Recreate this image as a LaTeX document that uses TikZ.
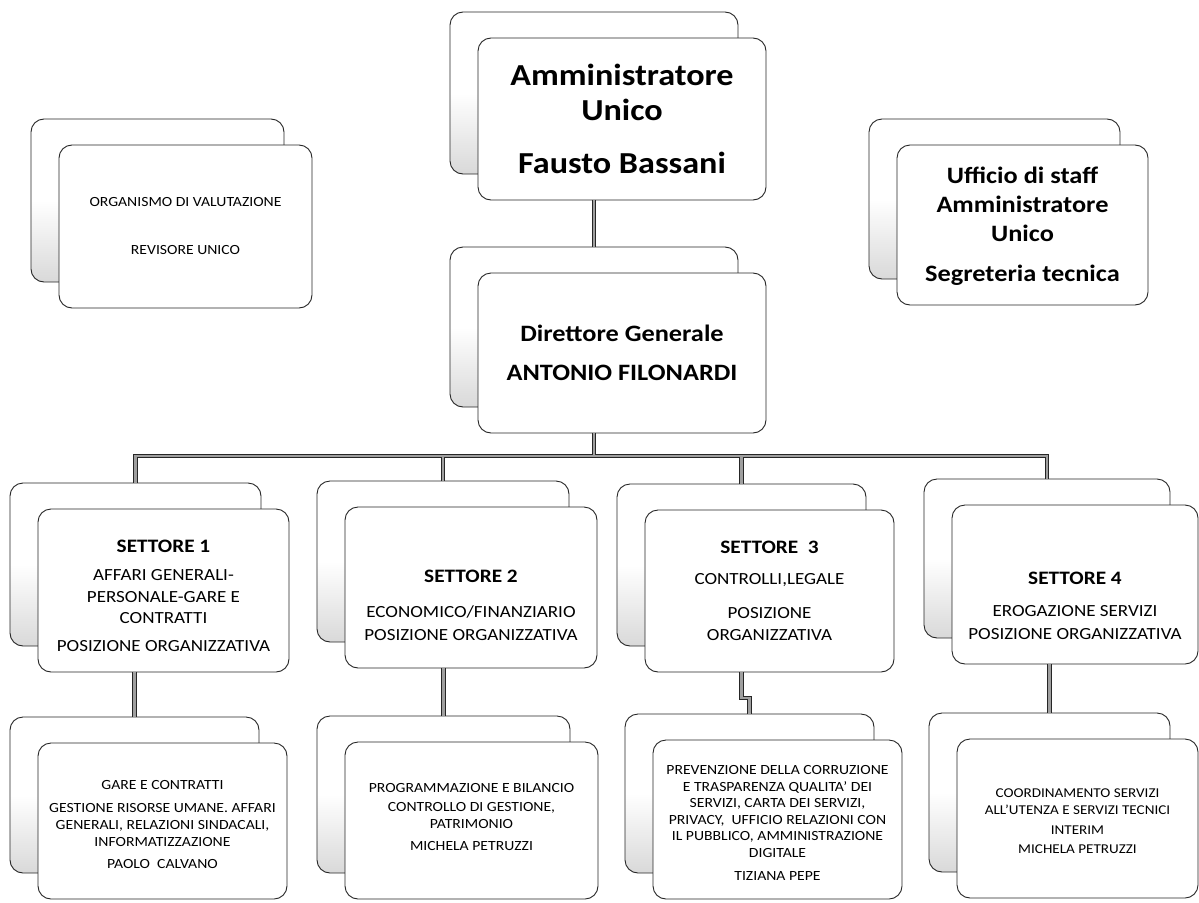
\documentclass[tikz,border=0pt]{standalone}
\usepackage{fontspec}
\setmainfont{Carlito}[FakeStretch=1.12]
\usepackage{tikz}
\usepackage{xcolor}
\usetikzlibrary{calc}

% back card + front card of one unit: name, centre x, centre y, width, height
\newcommand{\orgunit}[5]{%
	\node[backbox, minimum width=#4pt, minimum height=#5pt] (#1b) at (#2-28,#3-26) {};
	\node[frontbox, minimum width=#4pt, minimum height=#5pt] (#1) at (#2,#3) {};
}

\begin{document}
\begin{tikzpicture}[x=1pt, y=-1pt,
		backbox/.style={draw=black!85, line width=0.9pt, rounded corners=13pt, inner sep=0pt, top color=white, bottom color=gray!30, middle color=white},
		frontbox/.style={draw=black!85, line width=0.9pt, rounded corners=13pt, inner sep=0pt, fill=white},
		link/.style={draw=black!85, line width=1.1pt, double=gray!75, double distance=2.2pt},
		txt/.style={align=center, inner sep=0pt}]
			\useasboundingbox (0,0) rectangle (1199,902);
			\fill[white] (0,0) rectangle (1199,902);
			\clip (0,0) rectangle (1199,902);
			% top level
			\orgunit{au}{622}{119}{288}{162}
			\orgunit{ov}{185.5}{226.5}{253}{163}
			\orgunit{us}{1022.5}{225}{251}{160}
			\orgunit{dg}{622}{353}{288}{160}
			% settori
			\orgunit{s1}{163.5}{590.5}{251}{163}
			\orgunit{s2}{471}{587.5}{252}{161}
			\orgunit{s3}{769.5}{591}{249}{162}
			\orgunit{s4}{1075}{584.5}{246}{159}
			% uffici
			\orgunit{u1}{162.5}{821}{249}{156}
			\orgunit{u2}{471.5}{820.5}{253}{157}
			\orgunit{u3}{777.5}{819.5}{249}{159}
			\orgunit{u4}{1077.5}{818.5}{241}{159}
			% texts
			\node[txt, font=\fontsize{30.5}{35}\selectfont\bfseries] (au-txt) at (622,119) {Amministratore\\Unico\\[18pt]Fausto Bassani};
			\node[txt, font=\fontsize{14}{17}\selectfont] (ov-txt) at (185.5,226) {ORGANISMO DI VALUTAZIONE\\[31pt]REVISORE UNICO};
			\node[txt, font=\fontsize{23.5}{29}\selectfont\bfseries] (us-txt) at (1022.5,226) {Ufficio di staff\\Amministratore\\Unico\\[11pt]Segreteria tecnica};
			\node[txt, font=\fontsize{23.5}{29}\selectfont\bfseries] (dg-txt) at (622,352.5) {Direttore Generale\\[10pt]ANTONIO FILONARDI};
			\node[txt, font=\fontsize{17}{21.5}\selectfont] (s1-txt) at (163.5,596) {{\fontsize{19}{21.5}\selectfont\bfseries SETTORE 1}\\[6.5pt]AFFARI GENERALI-\\PERSONALE-GARE E\\CONTRATTI\\[6.5pt]POSIZIONE ORGANIZZATIVA};
			\node[txt, font=\fontsize{17}{21.5}\selectfont] (s2-txt) at (471,605) {{\fontsize{19}{21.5}\selectfont\bfseries SETTORE 2}\\[13.5pt]ECONOMICO/FINANZIARIO\\[1.5pt]POSIZIONE ORGANIZZATIVA};
			\node[txt, font=\fontsize{17}{21.5}\selectfont] (s3-txt) at (769.5,591) {{\fontsize{19}{21.5}\selectfont\bfseries SETTORE\ \ 3}\\[9.5pt]CONTROLLI,LEGALE\\[12.5pt]POSIZIONE\\ORGANIZZATIVA};
			\node[txt, font=\fontsize{17}{21.5}\selectfont] (s4-txt) at (1075,606) {{\fontsize{19}{21.5}\selectfont\bfseries SETTORE 4}\\[10.5pt]EROGAZIONE SERVIZI\\[1.5pt]POSIZIONE ORGANIZZATIVA};
			\node[txt, font=\fontsize{14}{17}\selectfont] (u1-txt) at (162.5,824) {GARE E CONTRATTI\\[6pt]GESTIONE RISORSE UMANE. AFFARI\\GENERALI, RELAZIONI SINDACALI,\\INFORMATIZZAZIONE\\[5pt]PAOLO~ CALVANO};
			\node[txt, font=\fontsize{14}{17}\selectfont] (u2-txt) at (471.5,817) {PROGRAMMAZIONE E BILANCIO\\[2pt]CONTROLLO DI GESTIONE,\\PATRIMONIO\\[5pt]MICHELA PETRUZZI};
			\node[txt, font=\fontsize{14}{16.5}\selectfont] (u3-txt) at (777.5,823) {PREVENZIONE DELLA CORRUZIONE\\E TRASPARENZA QUALITA’ DEI\\SERVIZI, CARTA DEI SERVIZI,\\PRIVACY,~ UFFICIO RELAZIONI CON\\IL PUBBLICO, AMMINISTRAZIONE\\DIGITALE\\[6.5pt]TIZIANA PEPE};
			\node[txt, font=\fontsize{13.5}{17}\selectfont] (u4-txt) at (1077.5,821) {COORDINAMENTO SERVIZI\\ALL’UTENZA E SERVIZI TECNICI\\[3pt]INTERIM\\[2pt]MICHELA PETRUZZI};
			% connectors
			\coordinate (bus) at (594,456);
			\coordinate (j3) at (0,698);
			\draw[link] (au.south -| dgb) -- (dgb.north);
			\draw[link] (dg.south -| dgb) -- (bus)
				(s1b.north) |- (bus) -| (s4b.north)
				(s2b.north) -- (s2b.north |- bus)
				(s3b.north) -- (s3b.north |- bus);
			\draw[link] (s1.south -| u1b) -- (u1b.north)
				(s2.south -| u2b) -- (u2b.north)
				(s3.south -| s3b) |- (j3 -| u3b) -- (u3b.north)
				(s4.south -| u4b) -- (u4b.north);
		\end{tikzpicture}
\end{document}
